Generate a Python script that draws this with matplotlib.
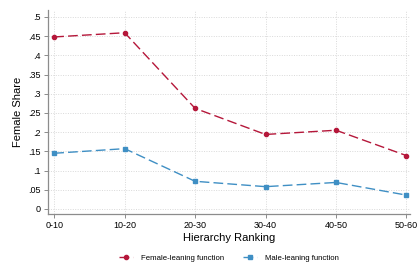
import matplotlib
matplotlib.use("Agg")
import matplotlib.pyplot as plt

rankings = ["0-10", "10-20", "20-30", "30-40", "40-50", "50-60"]
female_leaning = [0.448, 0.459, 0.262, 0.194, 0.205, 0.139]
male_leaning = [0.145, 0.157, 0.072, 0.058, 0.069, 0.036]
y_ticks = [0, 0.05, 0.1, 0.15, 0.2, 0.25, 0.3, 0.35, 0.4, 0.45, 0.5]
y_labels = ["0", ".05", ".1", ".15", ".2", ".25", ".3", ".35", ".4", ".45", ".5"]

RED = "#b5173a"
BLUE = "#3f8fc4"
GRID = "#d9d9d9"
SPINE = "#8c8c8c"

plt.rcParams["font.family"] = ["Liberation Sans", "DejaVu Sans"]

fig = plt.figure(figsize=(4.2, 2.8), dpi=100)
ax = fig.add_axes([0.114, 0.236, 0.862, 0.728])

x = list(range(len(rankings)))
ax.plot(x, female_leaning, color=RED, linestyle=(0, (7, 3)), linewidth=1.0,
        marker="o", markersize=3, label="Female-leaning function")
ax.plot(x, male_leaning, color=BLUE, linestyle=(0, (7, 3)), linewidth=1.0,
        marker="s", markersize=2.6, label="Male-leaning function")

ax.set_xlim(-0.09, 5.05)
ax.set_ylim(-0.013, 0.518)
ax.set_xticks(x)
ax.set_xticklabels(rankings)
ax.set_yticks(y_ticks)
ax.set_yticklabels(y_labels)

ax.grid(True, color=GRID, linestyle=(0, (1, 1.5)), linewidth=0.7)
ax.set_axisbelow(True)

for side in ["top", "right"]:
    ax.spines[side].set_visible(False)
for side in ["left", "bottom"]:
    ax.spines[side].set_color(SPINE)
    ax.spines[side].set_linewidth(0.9)

ax.tick_params(axis="both", labelsize=6.5, color=SPINE, length=3, width=0.7, pad=2)

ax.set_xlabel("Hierarchy Ranking", fontsize=8, labelpad=2)
ax.set_ylabel("Female Share", fontsize=8, labelpad=4)

ax.legend(loc="upper center", bbox_to_anchor=(0.5, -0.165), ncol=2, frameon=False,
          fontsize=5.6, handlelength=1.8, handletextpad=1.0, columnspacing=2.4)

fig.savefig("out.png", dpi=100)
